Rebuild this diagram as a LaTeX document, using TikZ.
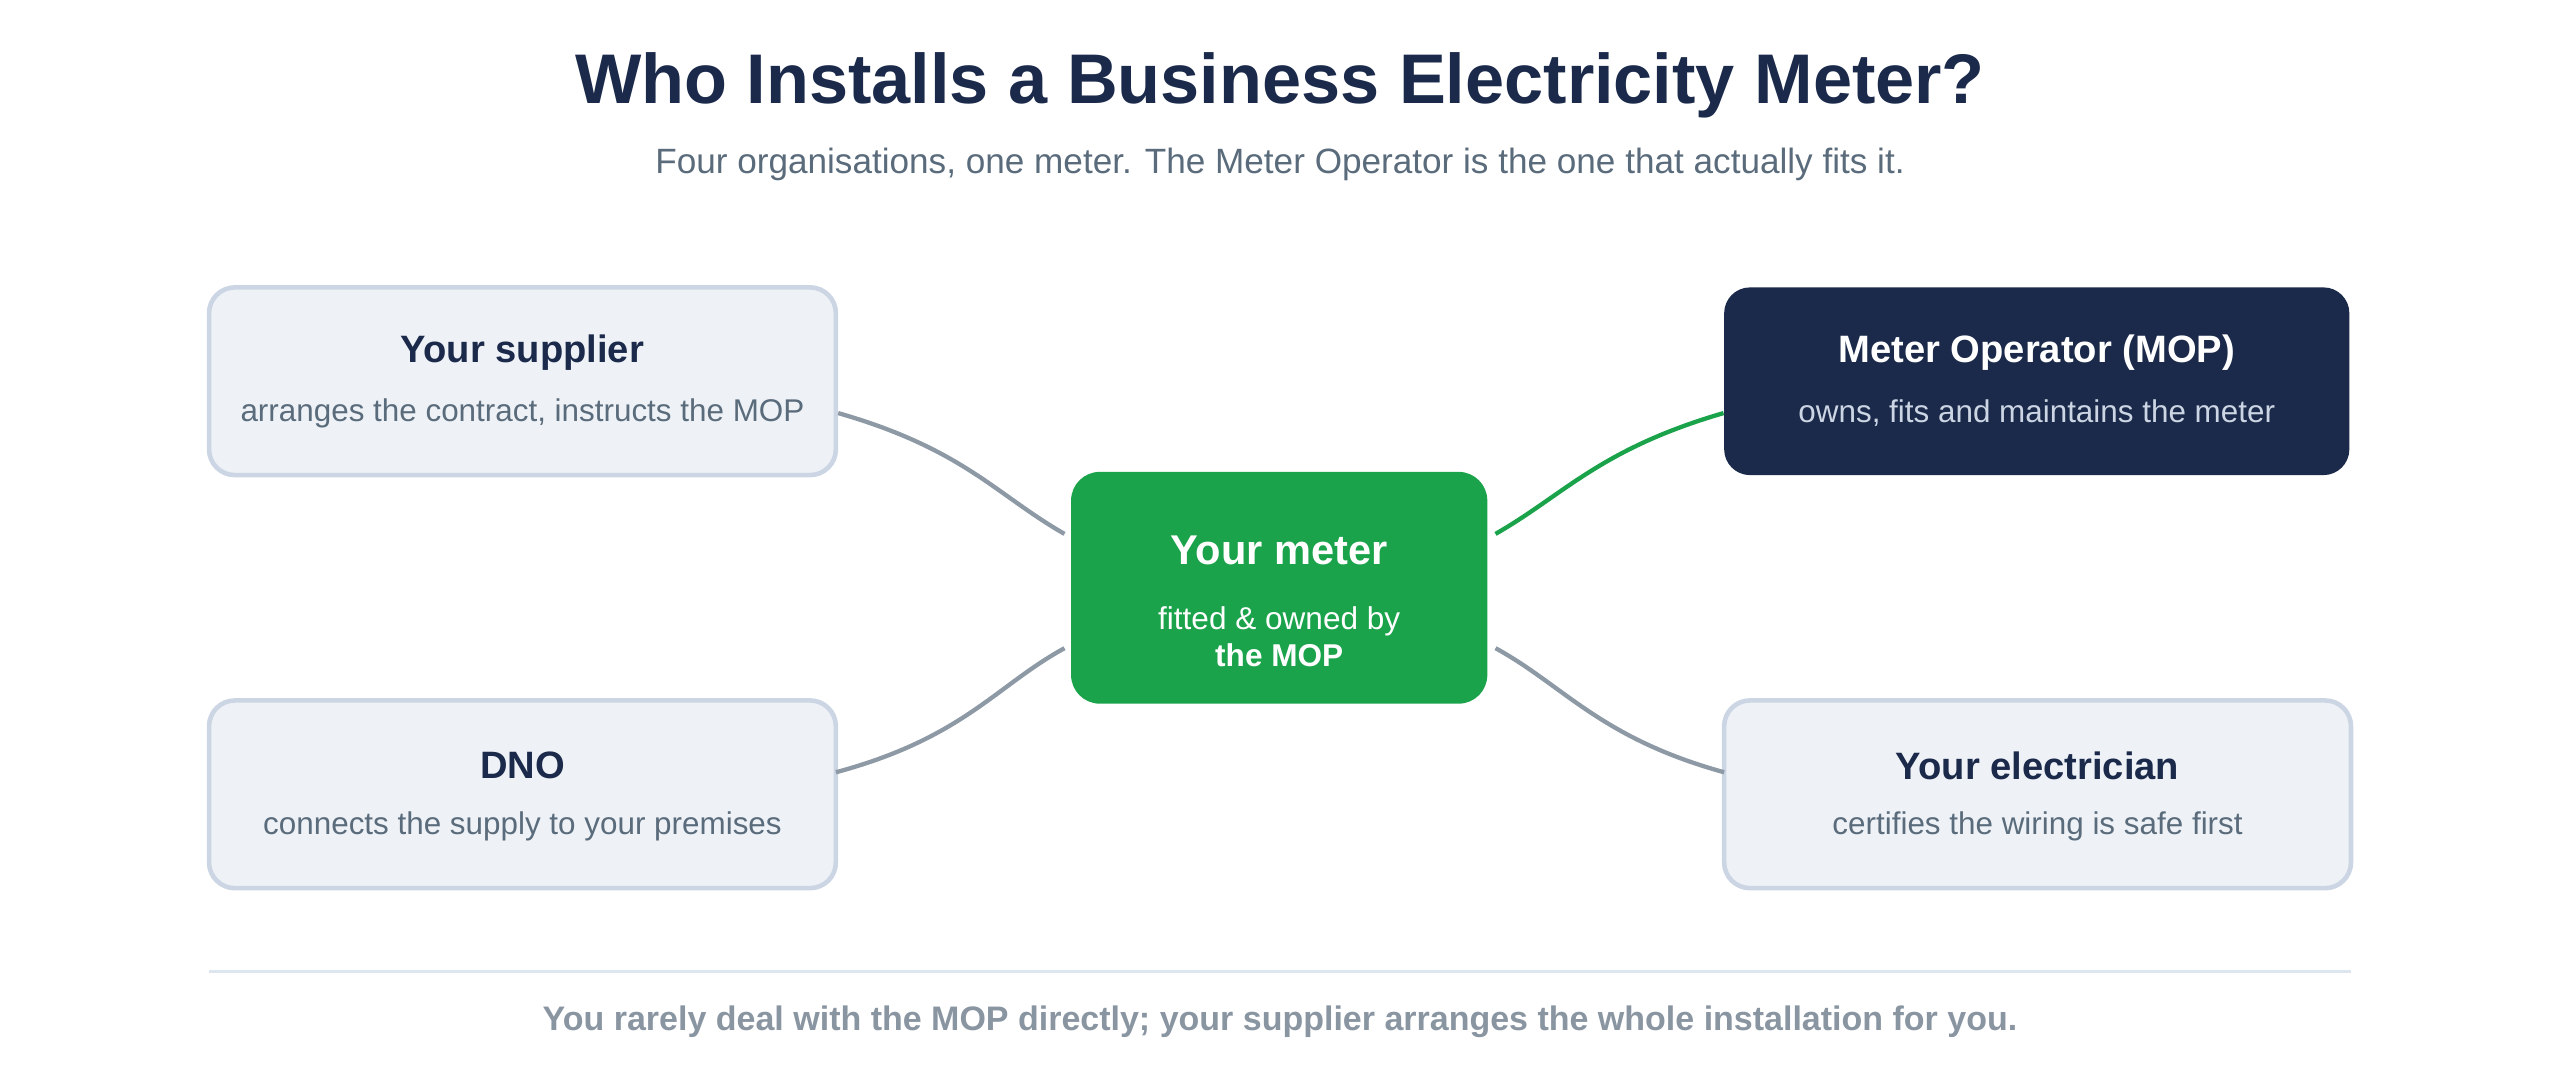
\documentclass[tikz,border=0pt]{standalone}
\usepackage{fontspec}
\setmainfont{Liberation Sans}
\definecolor{navy}{HTML}{1B2A4A}
\definecolor{grn}{HTML}{1AA34A}
\definecolor{boxfill}{HTML}{EEF2F7}
\definecolor{boxline}{HTML}{CBD5E3}
\definecolor{conn}{HTML}{8E99A6}
\definecolor{sub}{HTML}{5A6B7B}
\definecolor{foot}{HTML}{8A95A2}
\definecolor{sep}{HTML}{DDE5EE}
\begin{document}
\begin{tikzpicture}[x=0.02cm,y=-0.02cm,
  light/.style={draw=boxline,line width=1.6pt,fill=boxfill,rounded corners=9pt,minimum width=7.68cm,minimum height=2.3cm},
  dark/.style={fill=navy,rounded corners=9pt,minimum width=7.66cm,minimum height=2.3cm},
  ttl/.style={font=\bfseries\fontsize{13.3}{15}\selectfont,text=navy},
  dsc/.style={font=\fontsize{10.95}{13}\selectfont,text=sub},
  link/.style={draw=conn,line width=1.5pt}]
\useasboundingbox (0,0) rectangle (1568,664);
\node[font=\bfseries\fontsize{24.5}{30}\selectfont,text=navy] (title) at (784,52) {Who Installs a Business Electricity Meter?};
\node[font=\fontsize{12.25}{14}\selectfont,text=sub] (subt) at (784,101) {Four organisations, one meter. The Meter Operator is the one that actually fits it.};
\node[light] (sup) at (320,233.5) {};
\node[ttl] (supt) at (320,216) {Your supplier};
\node[dsc] (supd) at (320,253) {arranges the contract, instructs the MOP};
\node[dark] (mop) at (1247.5,233.5) {};
\node[ttl,text=white] (mopt) at (1247.5,216) {Meter Operator (MOP)};
\node[dsc,text=boxline] (mopd) at (1247.5,253) {owns, fits and maintains the meter};
\node[light] (dno) at (320,486.5) {};
\node[ttl] (dnot) at (320,469) {DNO};
\node[dsc] (dnod) at (320,506) {connects the supply to your premises};
\node[light] (ele) at (1248,486.5) {};
\node[ttl] (elet) at (1248,469) {Your electrician};
\node[dsc] (eled) at (1248,506) {certifies the wiring is safe first};
\node[fill=grn,rounded corners=10pt,minimum width=5.1cm,minimum height=2.84cm] (met) at (783.5,360) {};
\node[font=\bfseries\fontsize{14.5}{17}\selectfont,text=white] (mett) at (783.5,337) {Your meter};
\node[font=\fontsize{11}{13}\selectfont,text=white,align=center] (metd) at (783.5,390) {fitted \& owned by\\\textbf{the MOP}};
\coordinate (c1) at (652,327); \coordinate (c2) at (916,327);
\coordinate (c3) at (652,397); \coordinate (c4) at (916,397);
\coordinate (d1) at (512,473); \coordinate (e1) at (1056,473);
\draw[link] (sup.east|-supd) .. controls (590,275) and (610,303) .. (c1);
\draw[link] (d1) .. controls (590,452) and (610,420) .. (c3);
\draw[link,draw=grn] (mop.west|-mopd) .. controls (980,275) and (958,303) .. (c2);
\draw[link] (e1) .. controls (980,452) and (958,420) .. (c4);
\draw[sep,line width=1.2pt] (128,595) -- (1440,595);
\node[font=\bfseries\fontsize{11.85}{14}\selectfont,text=foot] (ft) at (784,626) {You rarely deal with the MOP directly; your supplier arranges the whole installation for you.};
\end{tikzpicture}
\end{document}
